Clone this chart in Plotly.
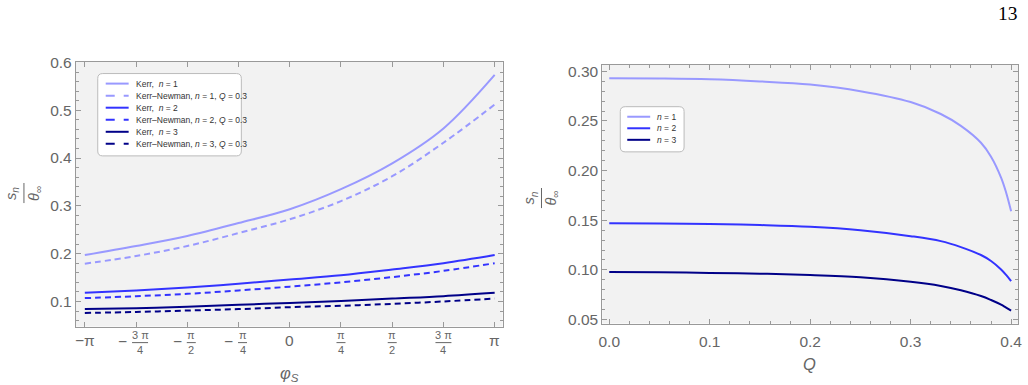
import math
import plotly.graph_objects as go

# ---------------- data ----------------
phi_pi_units = [-1.0, -0.75, -0.5, -0.25, 0.0, 0.25, 0.5, 0.75, 1.0]   # phi_S / pi
kerr_n1 = [0.197, 0.216, 0.237, 0.264, 0.293, 0.335, 0.389, 0.462, 0.574]
kn_n1 = [0.179, 0.195, 0.216, 0.243, 0.272, 0.310, 0.362, 0.432, 0.512]
kerr_n2 = [0.118, 0.123, 0.129, 0.137, 0.146, 0.155, 0.167, 0.180, 0.197]
kn_n2 = [0.107, 0.111, 0.116, 0.123, 0.131, 0.140, 0.151, 0.164, 0.180]
kerr_n3 = [0.084, 0.086, 0.089, 0.093, 0.097, 0.101, 0.106, 0.111, 0.118]
kn_n3 = [0.076, 0.078, 0.081, 0.084, 0.088, 0.091, 0.095, 0.100, 0.106]

Q_vals = [0.0, 0.05, 0.1, 0.15, 0.2, 0.25, 0.3, 0.33, 0.35, 0.37, 0.38, 0.39, 0.395, 0.4]
q_n1 = [0.293, 0.2928, 0.292, 0.2898, 0.2866, 0.280, 0.269, 0.257, 0.245, 0.228, 0.214, 0.193, 0.178, 0.159]
q_n2 = [0.147, 0.1467, 0.1462, 0.1452, 0.1435, 0.140, 0.134, 0.129, 0.123, 0.115, 0.109, 0.1005, 0.095, 0.0887]
q_n3 = [0.0978, 0.0976, 0.097, 0.0962, 0.0948, 0.0925, 0.088, 0.0838, 0.0795, 0.0737, 0.0697, 0.065, 0.062, 0.059]

# tick labels for phi_S axis: (sign, numerator, denominator)
phi_tick_labels = [("−", "π", ""), ("−", "3 π", "4"), ("−", "π", "2"), ("−", "π", "4"),
                   ("", "0", ""), ("", "π", "4"), ("", "π", "2"), ("", "3 π", "4"), ("", "π", "")]

left_names = ["Kerr,  <i>n</i> = 1", "Kerr–Newman, <i>n</i> = 1, <i>Q</i> = 0.3",
              "Kerr,  <i>n</i> = 2", "Kerr–Newman, <i>n</i> = 2, <i>Q</i> = 0.3",
              "Kerr,  <i>n</i> = 3", "Kerr–Newman, <i>n</i> = 3, <i>Q</i> = 0.3"]
right_names = ["<i>n</i> = 1", "<i>n</i> = 2", "<i>n</i> = 3"]

# ---------------- style ----------------
C1, C2, C3 = "#9999ff", "#3333ff", "#000088"
W, H = 1028, 385
GRAY = "#666666"
FRAME = "#999999"
FONT = "Liberation Sans, Arial, sans-serif"
DASH = "6px,4px"

# the photographed page is slightly rescaled; map target picture pixels to paper fractions
SX, OX = 0.995, 2.0
SY, OY = 0.965, 7.7


def px(x):
    return ((x - OX) / SX) / W


def py(y):
    return 1 - ((y - OY) / SY) / H


phi = [u * math.pi for u in phi_pi_units]

fig = go.Figure()
left_series = [kerr_n1, kn_n1, kerr_n2, kn_n2, kerr_n3, kn_n3]
left_colors = [C1, C1, C2, C2, C3, C3]
left_dash = ["solid", DASH, "solid", DASH, "solid", DASH]
for ys, col, nm, ds in zip(left_series, left_colors, left_names, left_dash):
    fig.add_trace(go.Scatter(x=phi, y=ys, mode="lines", name=nm, showlegend=False,
                             line=dict(color=col, width=2, shape="spline", dash=ds),
                             xaxis="x", yaxis="y"))

right_series = [q_n1, q_n2, q_n3]
right_colors = [C1, C2, C3]
for ys, col, nm in zip(right_series, right_colors, right_names):
    fig.add_trace(go.Scatter(x=Q_vals, y=ys, mode="lines", name=nm, showlegend=False,
                             line=dict(color=col, width=2, shape="spline"),
                             xaxis="x2", yaxis="y2"))

common = dict(showline=True, linecolor=FRAME, linewidth=1, mirror="allticks",
              ticks="inside", tickcolor=FRAME, showgrid=False, zeroline=False,
              tickfont=dict(family=FONT, size=15.5, color=GRAY))
minor_y1 = dict(dtick=0.02, ticklen=3, tickcolor=FRAME, ticks="inside")

fig.update_layout(
    width=W, height=H, margin=dict(l=0, r=0, t=0, b=0),
    paper_bgcolor="white", plot_bgcolor="#f2f2f2",
    font=dict(family=FONT, color=GRAY),
    showlegend=False,
    xaxis=dict(domain=[px(74), px(502)], range=[-3.28, 3.263],
               tickvals=phi, showticklabels=False, ticklen=5, anchor="y",
               **{k: v for k, v in common.items() if k != "tickfont"}),
    yaxis=dict(domain=[py(325), py(61)], range=[0.0475, 0.602], dtick=0.1, tick0=0,
               ticklen=5, tickformat=".1f", anchor="x", minor=minor_y1, **common),
    xaxis2=dict(domain=[px(602), px(1019)], range=[-0.0069, 0.407], dtick=0.1, tick0=0,
                tickformat=".1f", ticklen=5, anchor="y2", ticklabelstandoff=4,
                minor=dict(dtick=0.02, ticklen=3, tickcolor=FRAME, ticks="inside"), **common),
    yaxis2=dict(domain=[py(322), py(64)], range=[0.046, 0.3068], dtick=0.05, tick0=0,
                tickformat=".2f", ticklen=5, anchor="x2",
                minor=dict(dtick=0.01, ticklen=3, tickcolor=FRAME, ticks="inside"), **common),
)

ann = []
shapes = []


def text(x, y, s, size, color=GRAY, xanchor="center", family=FONT, angle=0, xshift=0):
    ann.append(dict(x=x, y=y, xref="paper", yref="paper", text=s, showarrow=False,
                    xanchor=xanchor, yanchor="middle", textangle=angle, xshift=xshift,
                    font=dict(family=family, size=size, color=color)))


# phi_S tick labels (with stacked fractions)
for val, (sgn, num, den) in zip(phi, phi_tick_labels):
    base = dict(x=val, xref="x", yref="paper", showarrow=False,
                xanchor="center", yanchor="middle")
    if den == "":
        ann.append(dict(base, y=py(339), text=sgn + num,
                        font=dict(family=FONT, size=15.5, color=GRAY)))
    else:
        off = 0
        if sgn:
            off = 4
            ann.append(dict(base, y=py(340), text=sgn, xshift=-14 if num == "3 π" else -10,
                            font=dict(family=FONT, size=15.5, color=GRAY)))
        ann.append(dict(base, y=py(333), text=num, xshift=off,
                        font=dict(family=FONT, size=11, color=GRAY)))
        ann.append(dict(base, y=py(348.5), text=den, xshift=off,
                        font=dict(family=FONT, size=11, color=GRAY)))
        half = 8 if num == "3 π" else 4.5
        shapes.append(dict(type="line", xref="x", yref="paper", xsizemode="pixel", xanchor=val,
                           x0=-half + off, x1=half + off, y0=py(341), y1=py(341),
                           line=dict(color=GRAY, width=1)))

# axis titles
text(px(288), py(372), "<i>φ</i><sub><i>S</i></sub>", 16.5)
text(px(810), py(362), "<i>Q</i>", 16.5)

# y-axis fraction titles
for xs, xb, xt, yc in [(10, 22, 33, 192), (530, 541, 552, 197)]:
    text(px(xs), py(yc), "<i>s</i><sub><i>n</i></sub>", 14.5, angle=-90)
    text(px(xt), py(yc), "<i>θ</i><sub>∞</sub>", 14.5, angle=-90)
    shapes.append(dict(type="line", xref="paper", yref="paper",
                       x0=px(xb), x1=px(xb), y0=py(yc - 10), y1=py(yc + 10),
                       line=dict(color=GRAY, width=1)))

# page number
text(px(1021), py(13), "13", 19.5, color="black", xanchor="right",
     family="Liberation Serif, DejaVu Serif, serif")


# custom legends (rounded boxes)
def rounded_box(x0, y0, x1, y1, r=5):
    X0, X1 = px(x0), px(x1)
    Y0, Y1 = py(y0), py(y1)
    rx, ry = r / W, r / H
    path = (f"M {X0 + rx},{Y0} L {X1 - rx},{Y0} Q {X1},{Y0} {X1},{Y0 - ry} "
            f"L {X1},{Y1 + ry} Q {X1},{Y1} {X1 - rx},{Y1} L {X0 + rx},{Y1} "
            f"Q {X0},{Y1} {X0},{Y1 + ry} L {X0},{Y0 - ry} Q {X0},{Y0} {X0 + rx},{Y0} Z")
    shapes.append(dict(type="path", path=path, xref="paper", yref="paper",
                       fillcolor="white", line=dict(color="#bbbbbb", width=1), layer="above"))


rounded_box(96, 73, 240, 155)
left_item_y = [83, 95, 107, 119, 131, 143]
for yy, col, ds, nm in zip(left_item_y, left_colors, left_dash, left_names):
    shapes.append(dict(type="line", xref="paper", yref="paper", x0=px(104), x1=px(127),
                       y0=py(yy), y1=py(yy), layer="above",
                       line=dict(color=col, width=2, dash="dash" if ds != "solid" else "solid")))
    text(px(132), py(yy), nm, 8.5, color="#333333", xanchor="left")

rounded_box(620, 106, 684, 151)
right_item_y = [116, 127.5, 139]
for yy, col, nm in zip(right_item_y, right_colors, right_names):
    shapes.append(dict(type="line", xref="paper", yref="paper", x0=px(627), x1=px(650),
                       y0=py(yy), y1=py(yy), layer="above", line=dict(color=col, width=2)))
    text(px(655), py(yy), nm, 8.5, color="#333333", xanchor="left")

fig.update_layout(annotations=ann, shapes=shapes)
fig.write_html("out.html", post_script="document.body.style.margin='0';")
